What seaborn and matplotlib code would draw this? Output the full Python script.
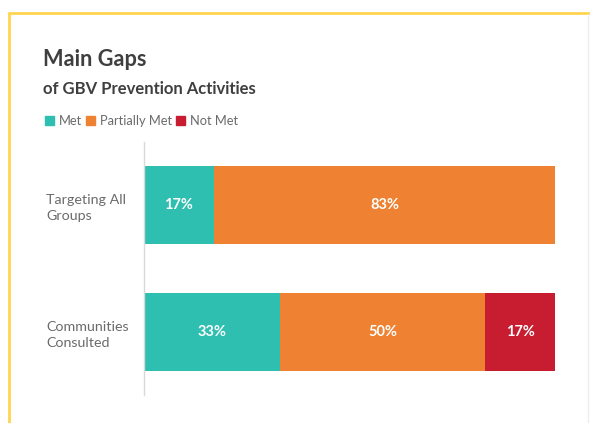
import matplotlib
matplotlib.use("Agg")
import matplotlib.pyplot as plt
import seaborn as sns
import pandas as pd
import numpy as np
from matplotlib.lines import Line2D
from matplotlib.patches import Rectangle

categories = ["Targeting All\nGroups", "Communities\nConsulted"]
series_names = ["Met", "Partially Met", "Not Met"]
met = [17, 33]
partially_met = [83, 50]
not_met = [0, 17]
colors = ["#2EBFB1", "#EE8232", "#C81D31"]

sns.set_theme(style="white")
plt.rcParams["font.family"] = ["Lato", "DejaVu Sans"]

fig = plt.figure(figsize=(5.9, 4.23), dpi=100)
ax = fig.add_axes([144/590, 28/423, (555-144)/590, (395-142)/423])

series = [met, partially_met, not_met]
cum = np.cumsum(np.array(series), axis=0)
# draw from the rightmost cumulative to the leftmost so each segment shows
for i in reversed(range(len(series))):
    df = pd.DataFrame({"cat": categories, "val": cum[i]})
    sns.barplot(data=df, x="val", y="cat", orient="h", color=colors[i],
                width=0.62, ax=ax, saturation=1, edgecolor="none")

starts = np.vstack([np.zeros(len(categories)), cum[:-1]])
for i in range(len(series)):
    for j in range(len(categories)):
        v = series[i][j]
        if v > 0:
            ax.text(starts[i][j] + v / 2, j, f"{v}%", ha="center", va="center",
                    color="white", fontsize=10.5, fontweight="bold")

ax.set_xlim(0, 100)
ax.set_ylim(1.5, -0.5)
ax.set_xlabel("")
ax.set_ylabel("")
ax.set_xticks([])
for s in ["top", "right", "bottom"]:
    ax.spines[s].set_visible(False)
ax.spines["left"].set_color("#D9D9D9")
ax.spines["left"].set_linewidth(1)
ax.tick_params(axis="y", length=0, pad=(144 - 46) * 0.72)
for lab in ax.get_yticklabels():
    lab.set_ha("left")
    lab.set_color("#6B6B6B")
    lab.set_fontsize(10.3)
    lab.set_linespacing(1.4)

# Titles
fig.text(43/590, 1 - 66/423, "Main Gaps", fontsize=15.7, fontweight="bold",
         color="#3F3F3F", ha="left", va="baseline")
fig.text(43/590, 1 - 94/423, "of GBV Prevention Activities", fontsize=12,
         fontweight="bold", color="#3F3F3F", ha="left", va="baseline")

# Legend
handles = [Rectangle((0, 0), 1, 1, color=c) for c in colors]
leg = fig.legend(handles, series_names, loc="center left",
                 bbox_to_anchor=(33/590, 1 - 121/423), ncol=3, frameon=False,
                 handlelength=0.7, handleheight=0.7, handletextpad=0.4,
                 columnspacing=0.3, fontsize=9.3)
for t in leg.get_texts():
    t.set_color("#6B6B6B")

# Frame border
fig.add_artist(Line2D([9/590, 1], [1 - 13/423, 1 - 13/423], color="#FFD54F",
                      lw=2, transform=fig.transFigure))
fig.add_artist(Line2D([9/590, 9/590], [0, 1 - 13/423], color="#FFD54F",
                      lw=2, transform=fig.transFigure))
fig.add_artist(Line2D([588/590, 588/590], [0, 1 - 14/423], color="#EEEEEE",
                      lw=1, transform=fig.transFigure))

fig.savefig("out.png", dpi=100)
